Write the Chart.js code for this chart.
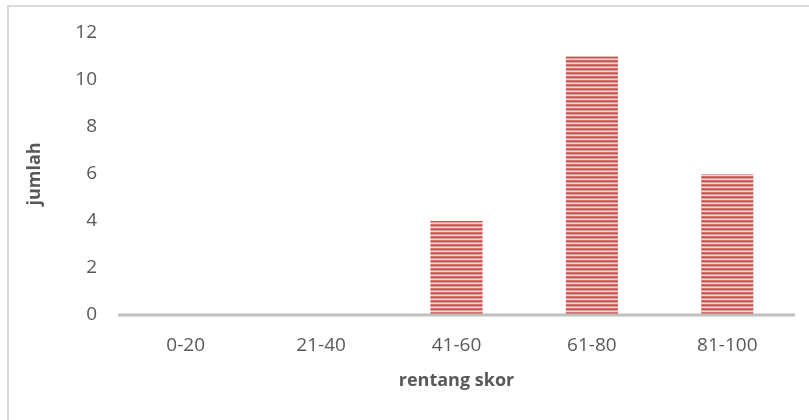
<!DOCTYPE html>
<html>
<head>
<meta charset="utf-8">
<script src="https://cdn.jsdelivr.net/npm/chart.js@4.4.1/dist/chart.umd.min.js"></script>
<style>
  html, body { margin: 0; padding: 0; background: #fff; overflow: hidden; }
  #frame {
    position: absolute; left: 7px; top: 5px; width: 820px; height: 430px;
    border: 2px solid #d9d9d9; box-sizing: border-box;
  }
  #wrap { position: absolute; left: 0; top: 0; width: 809px; height: 420px; }
</style>
</head>
<body>
<div id="frame"></div>
<div id="wrap"><canvas id="chart" width="809" height="420"></canvas></div>
<script>
const categories = ["0-20", "21-40", "41-60", "61-80", "81-100"];
const counts = [0, 0, 4, 11, 6];
const yTicks = [0, 2, 4, 6, 8, 10, 12];
const xTitle = "rentang skor";
const yTitle = "jumlah";

// horizontal red stripes used as the bar fill
function stripeFill() {
  const c = document.createElement("canvas");
  c.width = 4; c.height = 4;
  const g = c.getContext("2d");
  g.fillStyle = "#f6d0cf"; g.fillRect(0, 0, 4, 4);
  g.fillStyle = "#d9706d"; g.fillRect(0, 0, 4, 1);
  g.fillStyle = "#c0504d"; g.fillRect(0, 1, 4, 1);
  g.fillStyle = "#e8a3a1"; g.fillRect(0, 2, 4, 1);
  return g.createPattern(c, "repeat");
}

// thick grey baseline along the value 0
const baseline = {
  id: "baseline",
  afterDatasetsDraw(chart) {
    const { ctx, chartArea, scales } = chart;
    const y = scales.y.getPixelForValue(0);
    ctx.save();
    ctx.strokeStyle = "#bfbfbf";
    ctx.lineWidth = 3;
    ctx.beginPath();
    ctx.moveTo(chartArea.left, y);
    ctx.lineTo(chartArea.right, y);
    ctx.stroke();
    ctx.restore();
  }
};

const font = "'Open Sans', 'DejaVu Sans', sans-serif";

new Chart(document.getElementById("chart"), {
  type: "bar",
  data: {
    labels: categories,
    datasets: [{
      data: counts,
      backgroundColor: stripeFill(),
      borderWidth: 0,
      categoryPercentage: 1,
      barPercentage: 0.385
    }]
  },
  options: {
    responsive: false,
    animation: false,
    layout: { padding: { left: 0, right: 14, top: 33, bottom: 0 } },
    plugins: { legend: { display: false }, tooltip: { enabled: false } },
    scales: {
      x: {
        afterFit: (s) => { s.height = 105; },
        grid: { display: false, drawTicks: false },
        border: { display: false },
        ticks: { color: "#595959", font: { family: font, size: 19 }, padding: 19 },
        title: { display: true, text: xTitle, color: "#595959",
                 font: { family: font, size: 18, weight: "bold" }, padding: { top: 0, bottom: 28 } }
      },
      y: {
        min: 0, max: 12,
        afterFit: (s) => { s.width = 118; },
        afterBuildTicks: (s) => { s.ticks = yTicks.map(v => ({ value: v })); },
        grid: { display: false, drawTicks: false },
        border: { display: false },
        ticks: { color: "#595959", font: { family: font, size: 19 }, padding: 21 },
        title: { display: true, text: yTitle, color: "#595959",
                 font: { family: font, size: 18, weight: "bold" }, padding: { top: 24, bottom: 0 } }
      }
    }
  },
  plugins: [baseline]
});
</script>
</body>
</html>
